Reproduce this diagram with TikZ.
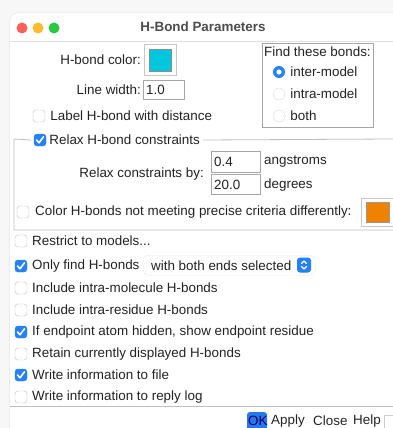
\documentclass[tikz,border=0pt]{standalone}
\usepackage{fontspec}
\setmainfont{Liberation Sans}
\usetikzlibrary{positioning}

\definecolor{macblue}{RGB}{38,128,246}
\definecolor{okblue}{RGB}{40,120,235}
\definecolor{hbcyan}{RGB}{0,198,222}
\definecolor{hborange}{RGB}{240,130,0}
\definecolor{txtgray}{RGB}{35,35,35}
\definecolor{lightred}{RGB}{255,95,87}
\definecolor{lightyellow}{RGB}{254,188,46}
\definecolor{lightgreen}{RGB}{40,200,64}

\tikzset{
  lbl/.style={inner sep=0pt, anchor=west, text=txtgray},
  rlbl/.style={inner sep=0pt, anchor=east, text=txtgray},
  chkoff/.style={draw=black!25, fill=white, rounded corners=3pt, minimum size=12pt, inner sep=0pt},
  chkon/.style={draw=macblue, fill=macblue, rounded corners=3pt, minimum size=12pt, inner sep=0pt},
  tick/.style={white, line width=1.6pt, line cap=round, line join=round},
  field/.style={draw=black!35, fill=white, inner sep=0pt, anchor=north west},
  radiooff/.style={circle, draw=black!15, fill=white, minimum size=12pt, inner sep=0pt},
  radioon/.style={circle, fill=macblue, minimum size=12pt, inner sep=0pt},
  framegray/.style={black!25, line width=0.8pt},
  btn/.style={inner sep=0pt, anchor=west, text=txtgray}
}

\begin{document}
\begin{tikzpicture}[x=1pt,y=-1pt,font=\fontsize{13.4}{15}\selectfont]
\useasboundingbox (0,0) rectangle (393,428);
\fill[black!3] (0,0) rectangle (393,428);
\begin{scope}
\clip (0,0) rectangle (393,428);
\fill[black!8, rounded corners=10pt] (9,12) rectangle (420,450);
\fill[white, rounded corners=9pt] (10,13) rectangle (420,450);
\end{scope}

%title bar
\fill[lightred] (22,28) circle (5.5pt);
\fill[lightyellow] (38,28) circle (5.5pt);
\fill[lightgreen] (54,28) circle (5.5pt);
\node[font=\bfseries\fontsize{13.4}{15}\selectfont, text=black!70] (title) at (203,27) {H-Bond Parameters};
\draw[black!12] (10,41) -- (393,41);

%color and width
\node[rlbl] (colorlbl) at (141,60) {H-bond color:};
\node[draw=black!22, fill=white, minimum width=32pt, minimum height=31pt, inner sep=0pt] (swatch) at (160,60) {};
\node[fill=hbcyan, draw=black!45, minimum size=22pt, inner sep=0pt] (swatchin) at (swatch) {};
\node[rlbl] (widthlbl) at (141,90) {Line width:};
\node[field, minimum width=41pt, minimum height=19pt] (widthfield) at (143,80) {};
\node[lbl] (widthval) at (146,90) {1.0};
\node[chkoff] (cblabel) at (39,116) {};
\node[lbl, right=5pt of cblabel] (labeltxt) {Label H-bond with distance};

%find these bonds
\node[draw=black!35, line width=0.8pt, minimum width=111pt, minimum height=84pt, inner sep=0pt, anchor=north west] (findbox) at (262,43) {};
\node[lbl] (findlbl) at (264,52) {Find these bonds:};
\node[radioon] (rinter) at (279,72) {};
\fill[white] (rinter) circle (2.6pt);
\node[lbl, right=5pt of rinter] (tinter) {inter-model};
\node[radiooff] (rintra) at (279,94) {};
\node[lbl, right=5pt of rintra] (tintra) {intra-model};
\node[radiooff] (rboth) at (279,116) {};
\node[lbl, right=5pt of rboth] (tboth) {both};

%relax group
\node[chkon] (cbrelax) at (40,140) {};
\draw[tick] ([shift={(-3.5,0)}]cbrelax.center) -- ++(2.5,2.8) -- ++(4.5,-6);
\node[lbl, right=3pt of cbrelax] (relaxtxt) {Relax H-bond constraints};
\draw[framegray] (relaxtxt.east) ++(3,0) -- (393,139);
\draw[framegray] (cbrelax.west) ++(-3,0) -- (14,139) -- (14,230) -- (393,230);
\node[rlbl] (bylbl) at (204,174) {Relax constraints by:};
\node[field, minimum width=49pt, minimum height=21pt] (distfield) at (211,151) {};
\node[lbl] (distval) at (214,162) {0.4};
\node[lbl] (distunit) at (264,162) {angstroms};
\node[field, minimum width=49pt, minimum height=20pt] (angfield) at (211,174) {};
\node[lbl] (angval) at (214,185) {20.0};
\node[lbl] (angunit) at (264,185) {degrees};
\node[chkoff] (cbcolor) at (23,212) {};
\node[lbl] (colortxt) at (35,212) {Color H-bonds not meeting precise criteria differently:};
\node[draw=black!22, fill=white, minimum width=32pt, minimum height=28pt, inner sep=0pt, anchor=north west] (oswatch) at (361,198) {};
\node[fill=hborange, draw=black!40, minimum width=23pt, minimum height=20pt, inner sep=0pt] (oswatchin) at (oswatch) {};

%options
\node[chkoff] (cbrestrict) at (21,241) {};
\node[lbl] (restricttxt) at (32,241) {Restrict to models...};
\node[chkon] (cbonly) at (21,266) {};
\draw[tick] ([shift={(-3.5,0)}]cbonly.center) -- ++(2.5,2.8) -- ++(4.5,-6);
\node[lbl] (onlytxt) at (32,266) {Only find H-bonds};
\node[draw=black!10, fill=white, rounded corners=5pt, minimum width=172pt, minimum height=20pt, inner sep=0pt, anchor=north west] (popup) at (143,255) {};
\node[lbl] (popuptxt) at (151,266) {with both ends selected};
\node[fill=macblue, rounded corners=3pt, minimum width=14pt, minimum height=15pt, inner sep=0pt] (stepper) at (304,265) {};
\draw[white, line width=1.2pt, line cap=round, line join=round] ([shift={(-2.5,-1.5)}]stepper.center) -- ++(2.5,-2.5) -- ++(2.5,2.5);
\draw[white, line width=1.2pt, line cap=round, line join=round] ([shift={(-2.5,1.5)}]stepper.center) -- ++(2.5,2.5) -- ++(2.5,-2.5);
\node[chkoff] (cbmol) at (21,288) {};
\node[lbl] (moltxt) at (32,288) {Include intra-molecule H-bonds};
\node[chkoff] (cbres) at (21,310) {};
\node[lbl] (restxt) at (32,310) {Include intra-residue H-bonds};
\node[chkon] (cbhidden) at (21,332) {};
\draw[tick] ([shift={(-3.5,0)}]cbhidden.center) -- ++(2.5,2.8) -- ++(4.5,-6);
\node[lbl] (hiddentxt) at (32,332) {If endpoint atom hidden, show endpoint residue};
\node[chkoff] (cbretain) at (21,354) {};
\node[lbl] (retaintxt) at (32,354) {Retain currently displayed H-bonds};
\node[chkon] (cbfile) at (21,375) {};
\draw[tick] ([shift={(-3.5,0)}]cbfile.center) -- ++(2.5,2.8) -- ++(4.5,-6);
\node[lbl] (filetxt) at (32,375) {Write information to file};
\node[chkoff] (cblog) at (21,397) {};
\node[lbl] (logtxt) at (32,397) {Write information to reply log};

%buttons
\draw[black!25] (10,406) -- (393,406);
\fill[okblue, rounded corners=3pt] (247,412) rectangle (267,431);
\node[btn, text=blue!40!black] (okbtn) at (248,421) {OK};
\node[btn] (applybtn) at (271,421) {Apply};
\node[btn] (closebtn) at (313,421) {Close};
\node[btn] (helpbtn) at (353,421) {Help};
\draw[black!20] (384,415) rectangle (395,430);
\end{tikzpicture}
\end{document}
